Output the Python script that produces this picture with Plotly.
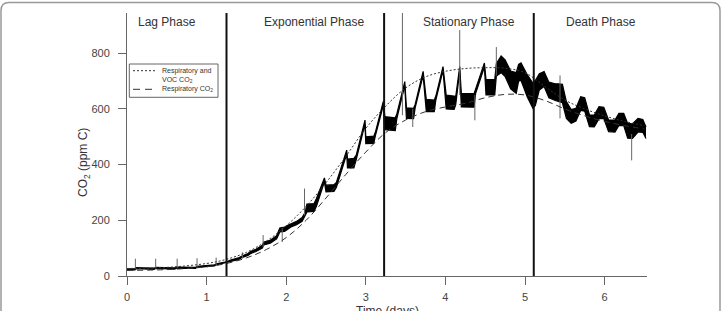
import plotly.graph_objects as go

# ---------------- data ----------------
phase_bounds = [1.25, 3.23, 5.11]
phase_names = ["Lag Phase", "Exponential Phase", "Stationary Phase", "Death Phase"]
phase_label_days = [0.50, 2.35, 4.30, 5.95]

fit_days = [0, 0.5, 1.0, 1.25, 1.5, 1.75, 2.0, 2.25, 2.5, 2.75, 3.0, 3.25, 3.5,
            3.75, 4.0, 4.25, 4.5, 4.75, 5.0, 5.25, 5.5, 5.75, 6.0, 6.25, 6.5]
resp_voc_co2 = [27, 31, 45, 60, 85, 125, 180, 250, 335, 430, 530, 610, 675,
                715, 735, 745, 748, 746, 730, 680, 632, 600, 575, 555, 540]
resp_co2 = [20, 23, 33, 45, 65, 95, 138, 200, 280, 365, 445, 515, 560,
            590, 607, 620, 640, 652, 650, 630, 600, 575, 555, 540, 528]

obs_days = [0.00, 0.10, 0.11, 0.34, 0.36, 0.60, 0.62, 0.86, 0.88, 1.00, 1.10, 1.12, 1.25,
            1.30, 1.40, 1.45, 1.52, 1.55, 1.62, 1.70, 1.72, 1.80, 1.88, 1.92, 1.98, 2.02,
            2.06, 2.13, 2.20, 2.24, 2.26, 2.35, 2.38, 2.48, 2.50, 2.60, 2.63, 2.76, 2.77,
            2.85, 2.88, 2.99, 3.00, 3.10, 3.12, 3.22,
            3.24, 3.37, 3.39, 3.49, 3.51, 3.60, 3.62, 3.72, 3.76, 3.86, 3.88, 3.97, 4.01,
            4.11, 4.13, 4.18, 4.20, 4.36, 4.38, 4.49, 4.51, 4.62, 4.64, 4.70, 4.75, 4.82,
            4.89, 4.92, 4.95, 5.03, 5.10,
            5.13, 5.18, 5.24, 5.30, 5.38, 5.42, 5.47, 5.52, 5.58, 5.64, 5.70, 5.75, 5.81,
            5.87, 5.93, 5.99, 6.05, 6.13, 6.18, 6.24, 6.29, 6.35, 6.42, 6.48, 6.52]
obs_low = [22, 22, 26, 24, 27, 25, 28, 27, 31, 33, 36, 40, 47,
           52, 59, 67, 74, 80, 88, 100, 112, 118, 133, 158, 160, 168,
           176, 184, 196, 218, 230, 232, 250, 338, 302, 304, 318, 438, 388,
           388, 418, 546, 475, 476, 503, 612,
           525, 522, 565, 684, 566, 565, 604, 720, 590, 590, 632, 738, 600,
           598, 615, 738, 607, 606, 656, 750, 650, 650, 718, 730, 716, 672,
           656, 700, 702, 642, 602,
           612, 668, 680, 640, 630, 626, 622, 566, 548, 556, 595, 592, 536,
           535, 565, 565, 518, 517, 541, 540, 495, 494, 517, 516, 494]
obs_high = [26, 26, 30, 28, 31, 29, 32, 31, 35, 37, 40, 44, 51,
            57, 65, 73, 81, 88, 96, 110, 122, 128, 145, 172, 176, 182,
            188, 196, 210, 230, 258, 260, 278, 352, 326, 328, 336, 452, 420,
            422, 434, 560, 500, 502, 516, 627,
            572, 568, 582, 698, 604, 602, 616, 735, 634, 632, 646, 752, 650,
            648, 645, 752, 656, 655, 672, 765, 706, 705, 762, 790, 776, 736,
            730, 760, 765, 722, 692,
            702, 726, 734, 696, 690, 690, 688, 626, 598, 602, 644, 640, 578,
            578, 608, 606, 560, 560, 584, 584, 548, 546, 566, 562, 535]

spike_days = [0.105, 0.36, 0.63, 0.88, 1.12, 1.45, 1.71, 1.95, 2.23,
              3.46, 3.59, 4.18, 4.37, 4.64, 5.44, 6.34]
spike_from = [25, 27, 28, 30, 38, 62, 104, 122, 218, 577, 535, 650, 559, 720, 566, 415]
spike_to = [62, 62, 62, 64, 66, 85, 147, 172, 314, 960, 600, 883, 650, 822, 720, 510]

# ---------------- figure ----------------
FONT = "Liberation Sans, Arial, Helvetica, sans-serif"
W, H = 722, 311
ML, MR, MT, MB = 127, 75, 13, 35
PW, PH = W - ML - MR, H - MT - MB


def px_x(px):
    return (px - ML) / PW


def px_y(py):
    return (H - MB - py) / PH


fig = go.Figure()

# measured CO2 band
fig.add_trace(go.Scatter(x=obs_days, y=obs_low, mode="lines",
                         line=dict(color="black", width=1.2), hoverinfo="skip",
                         showlegend=False))
fig.add_trace(go.Scatter(x=obs_days, y=obs_high, mode="lines", fill="tonexty",
                         fillcolor="black", line=dict(color="black", width=1.2),
                         hoverinfo="skip", showlegend=False))

# spikes
sx, sy = [], []
for t, a, b in zip(spike_days, spike_from, spike_to):
    sx += [t, t, None]
    sy += [a, b, None]
fig.add_trace(go.Scatter(x=sx, y=sy, mode="lines", line=dict(color="#666", width=1),
                         hoverinfo="skip", showlegend=False))

# fit curves
fig.add_trace(go.Scatter(x=fit_days, y=resp_voc_co2, mode="lines", line_shape="spline",
                         line=dict(color="#333", width=1, dash="2px,2px"),
                         name="Respiratory and VOC CO2", showlegend=False))
fig.add_trace(go.Scatter(x=fit_days, y=resp_co2, mode="lines", line_shape="spline",
                         line=dict(color="#333", width=1, dash="6px,4px"),
                         name="Respiratory CO2", showlegend=False))

# phase boundaries
for b in phase_bounds:
    fig.add_shape(type="line", xref="x", yref="paper", x0=b, x1=b, y0=0, y1=1,
                  line=dict(color="#111", width=2))

# phase labels
for name, d in zip(phase_names, phase_label_days):
    fig.add_annotation(x=d, y=px_y(22), xref="x", yref="paper", text=name,
                       showarrow=False, font=dict(family=FONT, size=12, color="#333"),
                       xanchor="center", yanchor="middle")

# manual legend
fig.add_shape(type="rect", xref="paper", yref="paper",
              x0=px_x(129.3), x1=px_x(218), y0=px_y(97.3), y1=px_y(64),
              line=dict(color="#666", width=1), fillcolor="white")
fig.add_shape(type="line", xref="paper", yref="paper",
              x0=px_x(133), x1=px_x(157), y0=px_y(70.7), y1=px_y(70.7),
              line=dict(color="#333", width=1, dash="2px,2px"))
fig.add_shape(type="line", xref="paper", yref="paper",
              x0=px_x(133), x1=px_x(157), y0=px_y(89.3), y1=px_y(89.3),
              line=dict(color="#333", width=1, dash="7px,5px"))
for txt, py in [("Respiratory and", 70.7), ("VOC CO<sub>2</sub>", 79.5),
                ("Respiratory CO<sub>2</sub>", 89.3)]:
    fig.add_annotation(x=px_x(159.5), y=px_y(py), xref="paper", yref="paper", text=txt,
                       showarrow=False, xanchor="left", yanchor="middle",
                       font=dict(family=FONT, size=7, color="#333"))

# axis titles
fig.add_annotation(x=px_x(84), y=px_y(163), xref="paper", yref="paper",
                   text="CO<sub>2</sub> (ppm C)", textangle=-90, showarrow=False,
                   xanchor="center", yanchor="middle",
                   font=dict(family=FONT, size=12, color="#333"))
fig.add_annotation(x=px_x(387), y=px_y(302), xref="paper", yref="paper",
                   text="Time (days)", showarrow=False, xanchor="center",
                   font=dict(family=FONT, size=12, color="#333"), yanchor="top")

# outer frame (rounded)
x0, x1 = px_x(1), px_x(720)
y1, y0 = px_y(2.5), px_y(340)
dx, dy = 8 / PW, 8 / PH
path = (f"M {x0+dx},{y1} L {x1-dx},{y1} Q {x1},{y1} {x1},{y1-dy} L {x1},{y0} "
        f"L {x0},{y0} L {x0},{y1-dy} Q {x0},{y1} {x0+dx},{y1} Z")
fig.add_shape(type="path", xref="paper", yref="paper", path=path,
              line=dict(color="#999", width=1.5))

axis_common = dict(showline=True, linecolor="#666", linewidth=1, ticks="outside",
                   ticklen=8, tickcolor="#666", tickwidth=1, showgrid=False,
                   zeroline=False, automargin=False,
                   tickfont=dict(family=FONT, size=11, color="#444"))

fig.update_layout(
    width=W, height=H, margin=dict(l=ML, r=MR, t=MT, b=MB, autoexpand=False),
    paper_bgcolor="white", plot_bgcolor="white", showlegend=False,
    xaxis=dict(range=[0, PW / 79.6], tickvals=[0, 1, 2, 3, 4, 5, 6],
               ticklabelstandoff=3, **axis_common),
    yaxis=dict(range=[0, PH / 0.2785], tickvals=[0, 200, 400, 600, 800],
               ticklabelstandoff=6, **axis_common),
)

fig.write_html("out.html")
